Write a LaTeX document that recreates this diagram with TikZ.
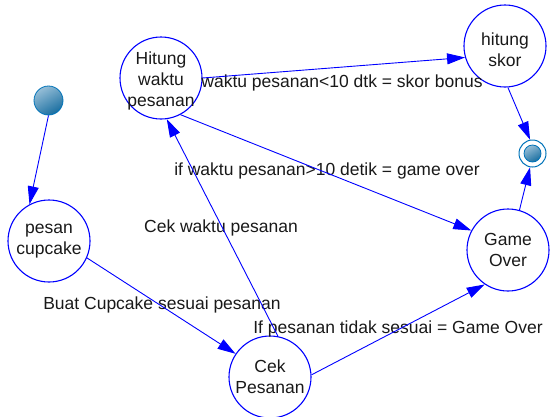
\documentclass[tikz,border=0pt]{standalone}
\usepackage{fontspec}
\setmainfont{Liberation Sans}
\usetikzlibrary{arrows.meta}

\definecolor{dotlight}{RGB}{150,190,215}
\definecolor{dotdark}{RGB}{25,110,160}
\definecolor{dotline}{RGB}{0,115,185}

\begin{document}
\begin{tikzpicture}[x=1pt,y=-1pt,
    txt/.style={font=\fontsize{17.5}{21}\selectfont,text=black!90,align=center},
    state/.style={circle,draw=blue,line width=1.1pt,minimum size=82pt,inner sep=0pt},
    ball/.style={circle,draw=dotline,line width=0.8pt,inner sep=0pt,
      top color=dotlight,bottom color=dotdark,shading angle=30},
    trans/.style={draw=blue,line width=0.9pt,-{Triangle[length=18pt,width=11pt]}}]
  \useasboundingbox (0,0) rectangle (553,416);
  % start and end
  \node[ball,minimum size=29pt] (st) at (48.5,100.5) {};
  \node[circle,draw=dotline,line width=1pt,minimum size=27pt,inner sep=0pt] (fin) at (532.5,153.5) {};
  \node[ball,minimum size=17pt] (finin) at (fin.center) {};
  % states
  \node[state,label={[txt]center:pesan\\cupcake}] (pc) at (49,241) {};
  \node[state,label={[txt,yshift=-3pt]center:Hitung\\waktu\\pesanan}] (hw) at (161,78) {};
  \node[state,label={[txt,yshift=-4pt]center:hitung\\skor}] (hs) at (505,46) {};
  \node[state,label={[txt]center:Game\\Over}] (go) at (508,250) {};
  \node[state,label={[txt]center:Cek\\Pesanan}] (cp) at (270,377) {};
  % labels
  \node[txt] (l1) at (342,83) {waktu pesanan<10 dtk = skor bonus};
  \node[txt] (l2) at (327,171) {if waktu pesanan>10 detik = game over};
  \node[txt] (l3) at (221,228) {Cek waktu pesanan};
  \node[txt] (l4) at (162,305) {Buat Cupcake sesuai pesanan};
  \node[txt] (l5) at (398,329) {If pesanan tidak sesuai = Game Over};
  % transitions
  \draw[trans] (st.south) -- (pc.118);
  \draw[trans] (pc.-24) -- (cp.146);
  \draw[trans] (cp.79) -- (hw.-82);
  \draw[trans] (cp.3) -- (go.-124);
  \draw[trans] (hw.0) -- (hs.196);
  \draw[trans] (hw.-62) -- (go.152);
  \draw[trans] (hs.-86) -- (fin.100);
  \draw[trans] (go.74) -- (fin.-100);
\end{tikzpicture}
\end{document}
